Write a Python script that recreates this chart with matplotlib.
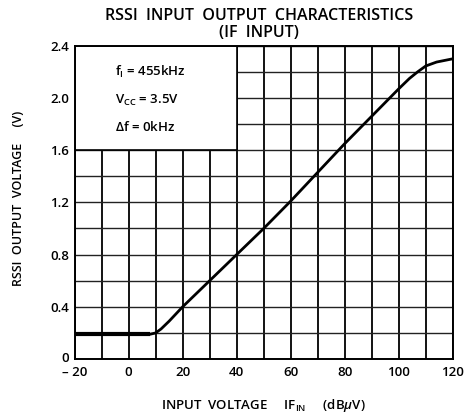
import matplotlib
matplotlib.use("Agg")
import matplotlib.pyplot as plt
import matplotlib.transforms as mtransforms
from matplotlib.patches import Rectangle
import numpy as np

# Data
flat_x = [-20, 8]
flat_y = [0.19, 0.19]
curve_x = [8, 10, 12, 15, 20, 30, 40, 50, 60, 70, 80, 90, 100, 104, 107, 110, 114, 120]
curve_y = [0.19, 0.20, 0.23, 0.29, 0.40, 0.60, 0.80, 1.00, 1.21, 1.43, 1.65, 1.86, 2.07, 2.15, 2.20, 2.245, 2.275, 2.30]

x_ticks = [-20, 0, 20, 40, 60, 80, 100, 120]
x_tick_labels = ["\u2013 20", "0", "20", "40", "60", "80", "100", "120"]
y_ticks = [0, 0.4, 0.8, 1.2, 1.6, 2.0, 2.4]
y_tick_labels = ["0", "0.4", "0.8", "1.2", "1.6", "2.0", "2.4"]

title = "RSSI  INPUT  OUTPUT  CHARACTERISTICS\n(IF  INPUT)"
xlabel = r"INPUT  VOLTAGE     IF$_{\mathregular{IN}}$     (dB$\mathit{\mu}$V)"
ylabel = "RSSI  OUTPUT  VOLTAGE     (V)"
conditions = [r"f$_{\mathregular{I}}$ = 455kHz", r"V$_{\mathregular{CC}}$ = 3.5V", r"$\mathit{\Delta}$f = 0kHz"]

plt.rcParams['font.family'] = ['Open Sans', 'DejaVu Sans']
plt.rcParams['font.weight'] = 'semibold'
plt.rcParams['mathtext.fontset'] = 'custom'
plt.rcParams['mathtext.rm'] = 'Open Sans:semibold'
plt.rcParams['mathtext.it'] = 'Open Sans:italic:semibold'

fig = plt.figure(figsize=(4.66, 4.17), dpi=100)
ax = fig.add_axes([0.16, 0.139, 0.8116, 0.7513])

ax.set_xlim(-20, 120)
ax.set_ylim(0, 2.4)
ax.set_xticks(x_ticks)
ax.set_xticklabels(x_tick_labels)
ax.set_yticks(y_ticks)
ax.set_yticklabels(y_tick_labels)
ax.set_xticks(np.arange(-20, 121, 10), minor=True)
ax.set_yticks(np.arange(0, 2.41, 0.2), minor=True)
ax.tick_params(which='both', length=0, labelsize=9.5)
ax.tick_params(axis='y', pad=4)
ax.tick_params(axis='x', pad=5)
ax.set_axisbelow(True)
ax.xaxis.grid(True, which='both', color='black', linewidth=1.3)
ax.yaxis.grid(True, which='both', color='#222222', linewidth=1.0)
for s in ax.spines.values():
    s.set_linewidth(1.4)

# nudge the "0" y label slightly upward so it does not collide with "– 20"
zero_lbl = ax.get_yticklabels()[0]
zero_lbl.set_transform(zero_lbl.get_transform() +
                       mtransforms.ScaledTranslation(0, 2 / 100, fig.dpi_scale_trans))

ax.add_patch(Rectangle((-20, 1.6), 60, 0.8, facecolor='white',
                       edgecolor='black', linewidth=1.2, zorder=1))

ax.plot(flat_x, flat_y, color='black', linewidth=3.0, zorder=3, solid_capstyle='butt')
ax.plot(curve_x, curve_y, color='black', linewidth=2.0, zorder=3)

cond_y = [2.20, 1.98, 1.78]
for t, yv in zip(conditions, cond_y):
    ax.text(-5, yv, t, fontsize=9.5, ha='left', va='center', zorder=4)

fig.text(0.555, 0.902, title, ha='center', va='bottom', fontsize=11.5, linespacing=1.1)
fig.text(0.565, 0.027, xlabel, ha='center', va='center', fontsize=9.5)
fig.text(0.039, 0.525, ylabel, ha='center', va='center', rotation=90, fontsize=9)

fig.savefig("out.png", dpi=100)
